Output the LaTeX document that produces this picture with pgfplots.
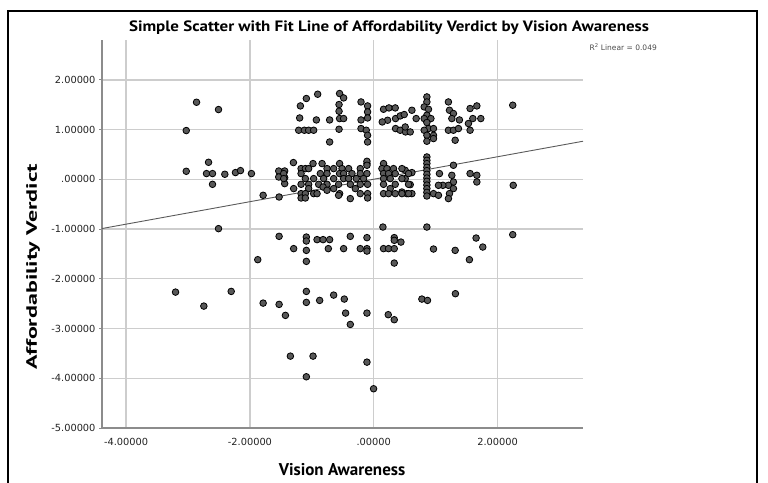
\documentclass[border=0pt]{standalone}
\usepackage{graphicx}
\usepackage{pgfplots}
\pgfplotsset{compat=1.18}
\usepackage{fontspec}
\setmainfont{PT Sans}
\newfontfamily\tickfont{DejaVu Sans}
\definecolor{ptfill}{RGB}{88,88,88}
\definecolor{gridc}{RGB}{205,205,205}
\definecolor{axisc}{RGB}{140,140,140}
\definecolor{fitc}{RGB}{90,90,90}
\definecolor{tickc}{RGB}{35,35,35}
\pgfplotstableread{
x y
-2.863 1.549
-2.508 1.402
-3.029 0.980
-3.029 0.161
-2.669 0.342
-2.702 0.115
-2.605 0.115
-2.605 -0.101
-2.406 0.101
-2.234 0.135
-2.153 0.175
-1.976 0.115
-1.787 -0.322
-1.529 -0.356
-1.535 0.167
-1.439 0.167
-1.535 0.046
-1.439 0.034
-1.439 -0.087
-1.298 0.336
-1.185 1.475
-1.089 1.624
-0.906 1.710
-1.197 1.233
-0.927 1.193
-0.713 1.193
-1.213 0.986
-1.121 0.986
-1.052 0.986
-0.971 0.986
-0.713 0.750
-0.552 1.724
-0.487 1.636
-0.561 1.503
-0.561 1.368
-0.552 1.221
-0.487 1.221
-0.561 1.006
-0.206 1.555
-0.100 1.475
-0.100 1.354
-0.100 1.233
-0.206 1.193
-0.206 1.020
-0.121 0.986
-0.100 0.885
-0.100 0.750
0.158 1.408
0.245 1.435
0.347 1.435
0.223 1.187
0.137 1.153
0.352 1.221
0.427 1.274
0.492 1.302
0.352 1.020
0.427 0.986
0.513 0.952
0.616 1.388
0.685 1.221
0.508 1.052
0.589 0.952
0.858 1.656
0.858 1.555
0.815 1.455
0.884 1.408
0.858 1.288
0.815 1.221
0.923 1.221
0.858 1.141
0.884 1.020
0.815 0.986
0.965 1.020
0.858 0.885
0.965 0.885
0.858 0.765
0.965 0.819
1.206 1.555
1.223 1.388
1.287 1.322
1.261 1.221
1.384 1.193
1.206 0.986
1.287 0.986
1.368 1.020
1.315 0.785
1.556 1.423
1.665 1.475
1.600 1.221
1.529 1.121
1.556 0.986
1.729 1.221
2.245 1.489
0.508 0.181
0.616 0.135
0.508 0.014
0.589 -0.107
0.455 -0.256
0.535 -0.288
0.616 -0.288
0.858 0.449
0.858 0.382
0.858 0.316
0.858 0.241
0.858 0.175
0.858 0.101
0.858 0.026
0.858 -0.040
0.858 -0.115
0.858 -0.187
0.858 -0.262
0.858 -0.336
0.965 -0.288
1.045 -0.322
1.061 0.115
1.287 0.282
1.261 0.080
1.287 -0.054
1.206 -0.121
1.287 -0.187
1.223 -0.288
1.206 -0.388
1.116 -0.121
1.045 -0.121
1.556 0.115
1.665 0.080
1.665 -0.054
2.253 -0.121
-0.981 0.316
-0.835 0.316
-0.552 0.316
-0.110 0.316
0.158 0.316
-1.174 0.215
-1.105 0.215
-1.052 0.215
-0.755 0.215
-0.648 0.215
-0.513 0.215
-0.406 0.215
-0.218 0.215
0.132 0.215
0.213 0.215
0.319 0.215
0.455 0.215
-1.455 0.115
-1.174 0.115
-0.863 0.115
-0.755 0.115
-0.552 0.115
-0.487 0.115
-0.352 0.115
-0.218 0.115
-0.110 0.115
0.158 0.115
0.239 0.115
0.347 0.115
0.562 0.115
-1.455 0.014
-1.105 0.014
-0.971 0.014
-0.810 0.014
-0.648 0.014
-0.487 0.014
-0.406 0.014
-0.282 0.014
-0.165 0.014
0.158 0.014
0.266 0.014
0.455 0.014
-1.174 -0.101
-1.052 -0.101
-0.890 -0.101
-0.755 -0.101
-0.568 -0.101
-0.379 -0.101
-0.218 -0.101
-0.100 -0.101
0.158 -0.101
0.347 -0.101
0.562 -0.101
-1.294 -0.187
-1.052 -0.187
-0.648 -0.187
-0.298 -0.187
0.266 -0.187
-1.174 -0.288
-1.105 -0.288
-0.971 -0.288
-0.552 -0.288
-0.218 -0.288
-0.100 -0.288
0.158 -0.288
0.239 -0.288
0.347 -0.288
0.455 -0.288
0.562 -0.288
-1.174 -0.376
-1.105 -0.376
-0.100 -0.376
-0.110 0.362
-0.110 0.282
-0.916 -0.288
-0.819 -0.155
-0.755 -0.221
-0.568 -0.322
-0.379 -0.388
-2.508 -0.992
-1.529 -1.147
-1.089 -1.161
-1.089 -1.241
-0.916 -1.213
-0.819 -1.213
-0.713 -1.213
-1.294 -1.394
-1.089 -1.429
-0.734 -1.394
-0.487 -1.394
-0.379 -1.147
-0.110 -1.173
-0.218 -1.394
-0.110 -1.394
-0.110 -1.443
-1.874 -1.616
-1.089 -1.650
0.148 -0.960
0.331 -1.173
0.331 -1.227
0.439 -1.262
0.158 -1.394
0.239 -1.394
0.331 -1.394
0.331 -1.684
0.858 -0.960
0.965 -1.402
1.315 -1.429
1.653 -1.181
1.761 -1.362
1.545 -1.616
2.245 -1.113
-3.202 -2.268
-2.745 -2.549
-2.303 -2.254
-1.787 -2.489
-1.529 -2.515
-1.427 -2.736
-1.089 -2.254
-1.089 -2.475
-0.874 -2.435
-0.648 -2.328
-0.476 -2.408
-0.455 -2.690
-0.379 -2.918
-0.110 -2.690
0.234 -2.722
0.331 -2.823
0.777 -2.408
0.868 -2.435
1.319 -2.300
-1.347 -3.555
-0.981 -3.555
-1.089 -3.970
-0.110 -3.676
-0.003 -4.211
}\scatterdata
\begin{document}
\begin{tikzpicture}
\useasboundingbox (0pt,0pt) rectangle (768pt,-482pt);
\draw[line width=2pt, black] (8pt,-484pt) -- (8pt,-11pt) -- (757pt,-11pt) -- (757pt,-484pt);
\node[font=\bfseries\fontsize{15}{15}\selectfont] at (389pt,-28pt) {\scalebox{1.13}[1]{Simple Scatter with Fit Line of Affordability Verdict by Vision Awareness}};
\node[anchor=west, font=\tickfont\fontsize{7.5}{8}\selectfont, text=gray!60!black] at (586pt,-47.5pt) {R\textsuperscript{2} Linear = 0.049};
\node[rotate=90, font=\bfseries\fontsize{15}{15}\selectfont] at (33pt,-267pt) {\scalebox{1.6}[1]{Affordability Verdict}};
\node[font=\bfseries\fontsize{17}{17}\selectfont] at (342pt,-470pt) {Vision Awareness};
\begin{axis}[
  at={(102pt,-428pt)}, anchor=south west,
  scale only axis, width=481pt, height=388pt,
  xmin=-4.39, xmax=3.38, ymin=-5, ymax=2.8,
  axis x line=bottom, axis y line=left,
  axis line style={-, draw=axisc, line width=1.5pt},
  xtick={-4,-2,0,2}, xticklabels={-4.00000,-2.00000,.00000,2.00000},
  ytick={-5,-4,-3,-2,-1,0,1,2},
  yticklabels={-5.00000,-4.00000,-3.00000,-2.00000,-1.00000,.00000,1.00000,2.00000},
  grid=major, major grid style={draw=gridc, line width=1.4pt},
  tick align=outside, major tick length=3pt,
  xtick style={draw=none}, ytick style={draw=axisc, line width=1pt},
  ticklabel style={font=\tickfont\fontsize{9.8}{10}\selectfont, text=tickc},
  xticklabel style={yshift=-4pt},
  clip=false,
]
\addplot[only marks, mark=*, mark size=3.3pt, mark options={fill=ptfill, draw=black, line width=0.8pt}] table[x=x,y=y] {\scatterdata};
\addplot[fitc, line width=0.9pt] coordinates {(-4.39,-0.99) (3.38,0.765)};
\end{axis}
\end{tikzpicture}
\end{document}
